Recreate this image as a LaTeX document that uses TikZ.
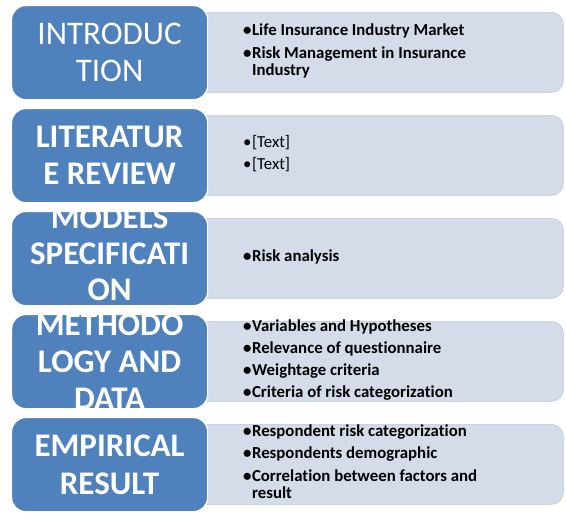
\documentclass[tikz,border=0pt]{standalone}
\usepackage{fontspec}
\setmainfont[Ligatures=NoCommon]{Carlito}
\definecolor{stepblue}{HTML}{4F81BD}
\definecolor{notefill}{HTML}{D5DCE9}
\definecolor{noteline}{HTML}{C9D2E5}

% bullet list inside the grey note panels
\newcommand{\notelist}[1]{\begin{tabular}{@{}l@{\hspace{0.5pt}}l@{}}#1\end{tabular}}

\tikzset{
  stepbox/.style={draw=white, line width=1.2pt, fill=stepblue, rounded corners=14pt,
    minimum width=196pt, minimum height=94pt, inner sep=0pt, anchor=north west},
  steptext/.style={text=white, align=center, inner sep=0pt,
    font=\fontsize{33}{37}\selectfont},
  notebox/.style={draw=noteline, line width=0.8pt, fill=notefill, rounded corners=12pt,
    minimum width=413pt, minimum height=80pt, inner sep=0pt, anchor=north west},
  notetext/.style={anchor=west, inner sep=0pt, text=black,
    font=\fontsize{16.8}{17.5}\selectfont},
}

\begin{document}
\begin{tikzpicture}[x=1pt, y=-1pt]
\useasboundingbox (0,0) rectangle (566,520);

% row 1
\node[notebox] (n1) at (150,12) {};
\node[stepbox] (s1) at (11,5) {};
\node[steptext] (t1) at (s1.center) {INTRODUC\\TION};
\node[notetext] (l1) at (243,52) {\bfseries\notelist{%
  •&Life Insurance Industry Market\\[5pt]
  •&Risk Management in Insurance\\
   &Industry}};

% row 2
\node[notebox] (n2) at (150,115) {};
\node[stepbox] (s2) at (11,108) {};
\node[steptext, font=\fontsize{33}{37}\selectfont\bfseries] (t2) at (s2.center) {LITERATUR\\E REVIEW};
\node[notetext] (l2) at (243,155) {\notelist{%
  •&[Text]\\[5pt]
  •&[Text]}};

% row 3
\node[notebox] (n3) at (150,218) {};
\node[stepbox] (s3) at (11,211) {};
\node[steptext, font=\fontsize{33}{36}\selectfont\bfseries, yshift=4.5pt] (t3) at (s3.center) {MODELS\\SPECIFICATI\\ON};
\node[notetext] (l3) at (243,258) {\bfseries\notelist{%
  •&Risk analysis}};

% row 4
\node[notebox] (n4) at (150,321) {};
\node[stepbox] (s4) at (11,314) {};
\node[steptext, font=\fontsize{33}{37}\selectfont\bfseries] (t4) at (s4.center) {METHODO\\LOGY AND\\DATA};
\node[notetext] (l4) at (243,361) {\bfseries\notelist{%
  •&Variables and Hypotheses\\[4.5pt]
  •&Relevance of questionnaire\\[4.5pt]
  •&Weightage criteria\\[4.5pt]
  •&Criteria of risk categorization}};

% row 5
\node[notebox] (n5) at (150,424) {};
\node[stepbox] (s5) at (11,417) {};
\node[steptext, font=\fontsize{33}{38}\selectfont\bfseries] (t5) at (s5.center) {EMPIRICAL\\RESULT};
\node[notetext] (l5) at (243,464) {\bfseries\notelist{%
  •&Respondent risk categorization\\[5pt]
  •&Respondents demographic\\[5pt]
  •&Correlation between factors and\\
   &result}};
\end{tikzpicture}
\end{document}
